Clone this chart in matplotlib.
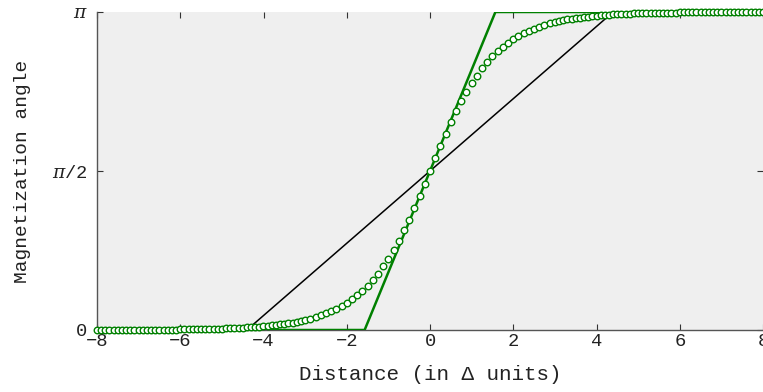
import numpy as np
import matplotlib
matplotlib.use("Agg")
import matplotlib.pyplot as plt

# ---------------------------------------------------------------------------
# donnees lues sur la figure
# cercles : profil de paroi (angle en radians)
x_left = np.arange(-8.0, -3.05, 0.1)      # -8.0 .. -3.1
x_mid = np.arange(-3.0, 3.01, 0.125)      # -3.0 .. 3.0
x_right = np.arange(3.1, 8.05, 0.1)       # 3.1 .. 8.0

theta_left = [0.001, 0.001, 0.001, 0.001, 0.001, 0.001, 0.001, 0.001, 0.001, 0.002,
              0.002, 0.002, 0.002, 0.002, 0.003, 0.003, 0.003, 0.004, 0.004, 0.004,
              0.005, 0.005, 0.006, 0.007, 0.007, 0.008, 0.009, 0.010, 0.011, 0.012,
              0.013, 0.015, 0.016, 0.018, 0.020, 0.022, 0.025, 0.027, 0.030, 0.033,
              0.037, 0.040, 0.045, 0.049, 0.055, 0.060, 0.067, 0.074, 0.081, 0.090]
theta_mid = [0.099, 0.113, 0.128, 0.145, 0.164, 0.185, 0.210, 0.238, 0.269, 0.304,
             0.344, 0.389, 0.439, 0.495, 0.558, 0.628, 0.705, 0.790, 0.883, 0.983,
             1.090, 1.204, 1.323, 1.446, 1.571, 1.695, 1.818, 1.937, 2.051, 2.159,
             2.259, 2.352, 2.437, 2.514, 2.584, 2.646, 2.703, 2.753, 2.797, 2.837,
             2.873, 2.904, 2.932, 2.956, 2.978, 2.997, 3.014, 3.029, 3.042]
theta_right = [3.051, 3.060, 3.068, 3.075, 3.081, 3.087, 3.092, 3.097, 3.101, 3.105,
               3.108, 3.112, 3.114, 3.117, 3.119, 3.121, 3.123, 3.125, 3.127, 3.128,
               3.129, 3.131, 3.132, 3.133, 3.133, 3.134, 3.135, 3.136, 3.136, 3.137,
               3.137, 3.138, 3.138, 3.138, 3.139, 3.139, 3.139, 3.139, 3.140, 3.140,
               3.140, 3.140, 3.140, 3.140, 3.140, 3.141, 3.141, 3.141, 3.141, 3.141]

# ligne verte (profil lineaire raide)
green_x = [-8.0, -1.571, 1.571, 8.0]
green_y = [0.0, 0.0, np.pi, np.pi]

# ligne noire (profil lineaire large)
black_x = [-8.0, -4.4, 4.4, 8.0]
black_y = [0.0, 0.0, np.pi, np.pi]

x_ticks = [-8, -6, -4, -2, 0, 2, 4, 6, 8]
y_ticks = [0, np.pi / 2, np.pi]
y_tick_labels = ["0", r"$\pi$/2", r"$\pi$"]


# ---------------------------------------------------------------------------
def main():
  plt.rcParams['font.family'] = ['Liberation Mono', 'DejaVu Sans']
  plt.rcParams['mathtext.fontset'] = 'dejavuserif'

  fig = plt.figure(figsize=(7.63, 3.92), dpi=100)
  ax = fig.add_axes([97 / 763, 1 - 330 / 392, 666 / 763, 318 / 392])
  ax.set_facecolor("#efefef")

  x_circ = np.concatenate([x_left, x_mid, x_right])
  y_circ = np.concatenate([theta_left, theta_mid, theta_right])

  ax.plot(black_x, black_y, c="black", lw=1.1, zorder=2)
  ax.plot(green_x, green_y, c="#008000", lw=1.8, zorder=3)
  ax.plot(x_circ, y_circ, ls="none", marker="o", ms=4.7, mfc="white",
          mec="#008000", mew=1.0, zorder=4, clip_on=False)

  ax.set_xlim(-8, 8)
  ax.set_ylim(0, np.pi)
  ax.set_xticks(x_ticks)
  ax.set_yticks(y_ticks)
  ax.set_yticklabels(y_tick_labels)

  for side in ["top", "right"]:
    ax.spines[side].set_visible(False)
  for side in ["left", "bottom"]:
    ax.spines[side].set_color("#555555")
    ax.spines[side].set_linewidth(1.0)

  ax.tick_params(direction="in", top=True, right=True, length=4,
                 color="#333333", labelsize=13.5, labelcolor="#222222")
  ax.tick_params(axis="x", pad=2)
  ax.tick_params(axis="y", pad=7)

  ax.set_xlabel("Distance (in \u0394 units)", fontsize=15, labelpad=11,
                color="#222222")
  ax.set_ylabel("Magnetization angle", fontsize=14, labelpad=15,
                color="#222222")

  fig.savefig("out.png", dpi=100)


if __name__ == '__main__':
  main()
